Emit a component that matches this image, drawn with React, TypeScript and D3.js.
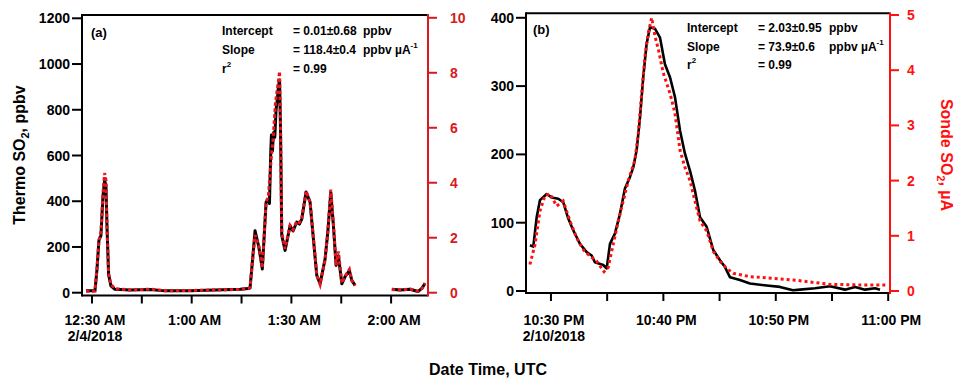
import React from 'react';
import * as d3 from 'd3';

const FONT = '"Liberation Sans", Arial, Helvetica, sans-serif';

// ---- panel (a): minutes after 00:00 UTC on 2/4/2018 ----
const aThermoMin = [28.2, 30.9, 31.5, 32.1, 32.7, 33.3, 33.8, 34.2, 34.5, 35.0, 35.7, 36.9, 41.4, 47.5, 52.0, 59.5, 67.0, 74.6, 77.0, 77.56, 79.07, 80.2, 81.26, 82.38, 83.07, 83.4, 83.79, 84.0, 84.3, 84.6, 85.0, 85.39, 85.8, 86.08, 86.44, 86.74, 87.1, 88.1, 89.6, 90.5, 91.62, 92.4, 93.12, 94.42, 95.62, 96.62, 97.64, 98.63, 100.14, 100.95, 101.85, 102.64, 103.45, 104.14, 105.17, 106.16, 107.45, 108.17, 109.17, 115, 120.22, 122.7, 125.7, 128.1, 129.3, 130.2];
const aThermoPpbv = [8, 8, 100, 230, 250, 420, 490, 470, 300, 80, 30, 15, 12, 14, 8, 8, 12, 15, 18, 20, 271, 200, 104, 396, 409, 390, 614, 690, 620, 700, 680, 800, 850, 900, 930, 700, 250, 185, 293, 270, 309, 300, 322, 440, 396, 235, 75, 39, 148, 265, 439, 293, 119, 162, 39, 70, 97, 54, 32, null, 15, 12, 15, 5, 20, 40];
const aSondeMin = [28.2, 30.9, 31.5, 32.1, 32.7, 33.3, 33.8, 34.2, 34.5, 35.0, 35.7, 36.9, 41.4, 47.5, 52.0, 59.5, 67.0, 74.6, 77.0, 77.56, 79.07, 80.2, 81.26, 82.38, 83.07, 84.0, 84.5, 85.2, 86.1, 86.44, 86.74, 87.1, 88.1, 89.6, 90.5, 91.62, 92.4, 93.12, 94.42, 95.62, 96.62, 97.64, 98.63, 100.14, 100.95, 101.85, 102.64, 103.45, 104.14, 105.17, 106.16, 107.45, 108.17, 109.17, 115, 120.22, 122.7, 125.7, 128.1, 129.3, 130.2];
const aSondeUa = [0.05, 0.06, 0.9, 1.9, 2.2, 3.6, 4.35, 4.1, 2.5, 0.7, 0.3, 0.15, 0.1, 0.13, 0.07, 0.08, 0.1, 0.12, 0.15, 0.2, 2.1, 1.7, 0.9, 3.3, 3.5, 5.0, 5.6, 6.9, 7.7, 8.05, 6.0, 2.2, 1.6, 2.45, 2.3, 2.6, 2.55, 2.7, 3.7, 3.3, 2.0, 0.65, 0.3, 1.2, 2.2, 3.75, 2.5, 1.0, 1.5, 0.35, 0.6, 0.85, 0.45, 0.25, null, 0.12, 0.1, 0.13, 0.05, 0.15, 0.35];
const aXTicks = [30, 45, 60, 75, 90, 105, 120];
const aXLabels = ['12:30 AM', '', '1:00 AM', '', '1:30 AM', '', '2:00 AM'];
const aDate = '2/4/2018';
const aLeftTicks = [0, 200, 400, 600, 800, 1000, 1200];
const aRightTicks = [0, 2, 4, 6, 8, 10];
const aFit = ['= 0.01±0.68', '= 118.4±0.4', '= 0.99'];

// ---- panel (b): minutes after 22:00 UTC on 2/10/2018 ----
const bThermoMin = [28.13, 28.43, 28.73, 29.02, 29.62, 30.06, 30.65, 31.09, 31.54, 31.98, 32.58, 33.18, 33.62, 33.91, 34.65, 34.96, 35.25, 35.69, 36.14, 36.58, 37.03, 37.32, 37.62, 37.92, 38.21, 38.51, 38.81, 39.25, 39.7, 40.14, 40.59, 41.03, 41.48, 41.92, 42.37, 42.81, 43.26, 43.85, 44.44, 45.04, 45.48, 45.93, 46.81, 47.7, 49.19, 50.37, 51.53, 52.15, 53.49, 54.82, 56.16, 57.05, 57.94, 58.83, 59.27];
const bThermoPpbv = [67, 65, 108, 133, 142, 137, 135, 130, 106, 89, 69, 57, 52, 42, 38, 33, 69, 84, 113, 150, 167, 181, 206, 254, 313, 362, 386, 384, 371, 332, 313, 284, 235, 201, 176, 147, 108, 94, 60, 45, 35, 20, 16, 11, 8, 6, 1, 2, 4, 7, 2, 6, 2, 4, 2];
const bSondeMin = [28.13, 28.58, 29.02, 29.47, 29.91, 30.51, 31.09, 31.69, 32.29, 32.87, 33.47, 34.07, 34.72, 35.1, 35.54, 35.99, 36.43, 36.88, 37.47, 37.77, 38.07, 38.36, 38.66, 38.96, 39.25, 39.55, 39.99, 40.59, 41.03, 41.48, 41.92, 42.37, 42.81, 43.26, 43.85, 44.44, 45.04, 45.63, 46.22, 47.7, 49.78, 51.56, 54.82, 57.49, 59.98];
const bSondeUa = [0.48, 0.84, 1.45, 1.73, 1.76, 1.54, 1.63, 1.27, 0.96, 0.75, 0.63, 0.54, 0.35, 0.43, 0.85, 1.27, 1.63, 2.0, 2.37, 2.85, 3.58, 4.25, 4.68, 4.95, 4.62, 4.38, 3.95, 3.58, 3.22, 2.55, 2.24, 2.0, 1.63, 1.27, 1.09, 0.72, 0.54, 0.41, 0.32, 0.26, 0.23, 0.2, 0.12, 0.11, 0.11];
const bXTicks = [30, 35, 40, 45, 50, 55, 60];
const bXLabels = ['10:30 PM', '', '10:40 PM', '', '10:50 PM', '', '11:00 PM'];
const bDate = '2/10/2018';
const bLeftTicks = [0, 100, 200, 300, 400];
const bRightTicks = [0, 1, 2, 3, 4, 5];
const bFit = ['= 2.03±0.95', '= 73.9±0.6', '= 0.99'];

const fitNames = ['Intercept', 'Slope', 'r'];

type PanelProps = {
  tag: string;
  box: { l: number; r: number; t: number; b: number };
  xDomain: [number, number];
  yL: { domain: [number, number]; range: [number, number]; ticks: number[] };
  yR: { domain: [number, number]; range: [number, number]; ticks: number[] };
  thermo: [number[], (number | null)[]];
  sonde: [number[], (number | null)[]];
  xTicks: number[];
  xLabels: string[];
  date: string;
  fit: string[];
  fitPos: { tagX: number; tagY: number; c1: number; c2: number; c3: number; rows: number[] };
  red: string;
  redAxis: string;
  lineW: number;
  dash: string;
  rightLabelX: number;
};

const Panel = (p: PanelProps) => {
  const { box } = p;
  const x = d3.scaleLinear().domain(p.xDomain).range([box.l, box.r]);
  const yl = d3.scaleLinear().domain(p.yL.domain).range(p.yL.range);
  const yr = d3.scaleLinear().domain(p.yR.domain).range(p.yR.range);

  const line = (ys: d3.ScaleLinear<number, number>) =>
    d3.line<[number, number | null]>()
      .defined((d) => d[1] != null)
      .x((d) => x(d[0]))
      .y((d) => ys(d[1] as number));

  const thermo = p.thermo[0].map((t, i) => [t, p.thermo[1][i]] as [number, number | null]);
  const sonde = p.sonde[0].map((t, i) => [t, p.sonde[1][i]] as [number, number | null]);

  return (
    <g fontFamily={FONT} fontWeight="bold">
      <path d={line(yl)(thermo) || ''} fill="none" stroke="#000" strokeWidth={p.lineW} strokeLinejoin="round" />
      <path d={line(yr)(sonde) || ''} fill="none" stroke={p.red} strokeWidth={3} strokeDasharray={p.dash} />

      {/* frame */}
      <line x1={box.l} x2={box.r} y1={box.t} y2={box.t} stroke="#000" strokeWidth={2} />
      <line x1={box.l} x2={box.r} y1={box.b} y2={box.b} stroke="#000" strokeWidth={2} />
      <line x1={box.l} x2={box.l} y1={box.t - 1} y2={box.b + 1} stroke="#000" strokeWidth={2} />
      <line x1={box.r} x2={box.r} y1={box.t - 1} y2={box.b + 1} stroke={p.redAxis} strokeWidth={2} />

      {/* left axis */}
      {p.yL.ticks.map((v) => (
        <g key={'l' + v}>
          <line x1={box.l - 10} x2={box.l} y1={yl(v)} y2={yl(v)} stroke="#000" strokeWidth={2} />
          <text x={box.l - 12} y={yl(v) + 5} fontSize={14} textAnchor="end">{v}</text>
        </g>
      ))}

      {/* right axis */}
      {p.yR.ticks.map((v) => (
        <g key={'r' + v}>
          <line x1={box.r} x2={box.r + 9} y1={yr(v)} y2={yr(v)} stroke={p.redAxis} strokeWidth={2} />
          <text x={p.rightLabelX} y={yr(v) + 5} fontSize={14} fill={p.redAxis}>{v}</text>
        </g>
      ))}

      {/* bottom axis */}
      {p.xTicks.map((t, i) => (
        <g key={'x' + t}>
          <line x1={x(t)} x2={x(t)} y1={box.b} y2={box.b + 8} stroke="#000" strokeWidth={2} />
          {p.xLabels[i] && (
            <text x={x(t) + 3} y={325} fontSize={14} textAnchor="middle">{p.xLabels[i]}</text>
          )}
        </g>
      ))}
      <text x={x(p.xTicks[0]) + 3} y={340.5} fontSize={14} textAnchor="middle">{p.date}</text>

      {/* fit statistics */}
      <text x={p.fitPos.tagX} y={p.fitPos.tagY} fontSize={13}>{p.tag}</text>
      {fitNames.map((n, i) => (
        <g key={n} fontSize={12}>
          <text x={p.fitPos.c1} y={p.fitPos.rows[i]}>
            {n}
            {i === 2 && <tspan dy={-6} fontSize={8}>2</tspan>}
          </text>
          <text x={p.fitPos.c2} y={p.fitPos.rows[i]}>{p.fit[i]}</text>
          {i < 2 && (
            <text x={p.fitPos.c3} y={p.fitPos.rows[i]}>
              {i === 0 ? 'ppbv' : 'ppbv µA'}
              {i === 1 && <tspan dy={-6} fontSize={8}>-1</tspan>}
            </text>
          )}
        </g>
      ))}
    </g>
  );
};

export default function App() {
  return (
    <svg width={967} height={391} style={{ position: 'absolute', left: 0, top: 0, background: '#fff' }}>
      <rect width={967} height={391} fill="#fff" />
      <Panel
        tag="(a)"
        box={{ l: 82, r: 428, t: 15, b: 295.5 }}
        xDomain={[27, 131.1]}
        yL={{ domain: [0, 1200], range: [292.7, 18.3], ticks: aLeftTicks }}
        yR={{ domain: [0, 10], range: [292.7, 17.8], ticks: aRightTicks }}
        thermo={[aThermoMin, aThermoPpbv]}
        sonde={[aSondeMin, aSondeUa]}
        xTicks={aXTicks}
        xLabels={aXLabels}
        date={aDate}
        fit={aFit}
        fitPos={{ tagX: 91, tagY: 37, c1: 222, c2: 293, c3: 363, rows: [34.5, 54, 73.3] }}
        red="#e8141c"
        redAxis="#d81920"
        lineW={3}
        dash="3.5,2.5"
        rightLabelX={450}
      />
      <Panel
        tag="(b)"
        box={{ l: 526, r: 890, t: 13.3, b: 293 }}
        xDomain={[27.78, 60.16]}
        yL={{ domain: [0, 400], range: [291, 17.8], ticks: bLeftTicks }}
        yR={{ domain: [0, 5], range: [291, 15], ticks: bRightTicks }}
        thermo={[bThermoMin, bThermoPpbv]}
        sonde={[bSondeMin, bSondeUa]}
        xTicks={bXTicks}
        xLabels={bXLabels}
        date={bDate}
        fit={bFit}
        fitPos={{ tagX: 533, tagY: 34, c1: 687, c2: 758, c3: 829, rows: [31.7, 50.7, 69.3] }}
        red="#ff1010"
        redAxis="#ff1010"
        lineW={2.6}
        dash="3,3"
        rightLabelX={907}
      />

      {/* axis titles */}
      <g fontFamily={FONT} fontWeight="bold" fontSize={16}>
        <text transform="translate(25,155) rotate(-90)" textAnchor="middle">
          Thermo SO<tspan dy={4} fontSize={11}>2</tspan><tspan dy={-4}>, ppbv</tspan>
        </text>
        <text transform="translate(941,155) rotate(90)" textAnchor="middle" fill="#ff1010">
          Sonde SO<tspan dy={4} fontSize={11}>2</tspan><tspan dy={-4}>, µA</tspan>
        </text>
        <text x={488} y={375} textAnchor="middle">Date Time, UTC</text>
      </g>
    </svg>
  );
}
